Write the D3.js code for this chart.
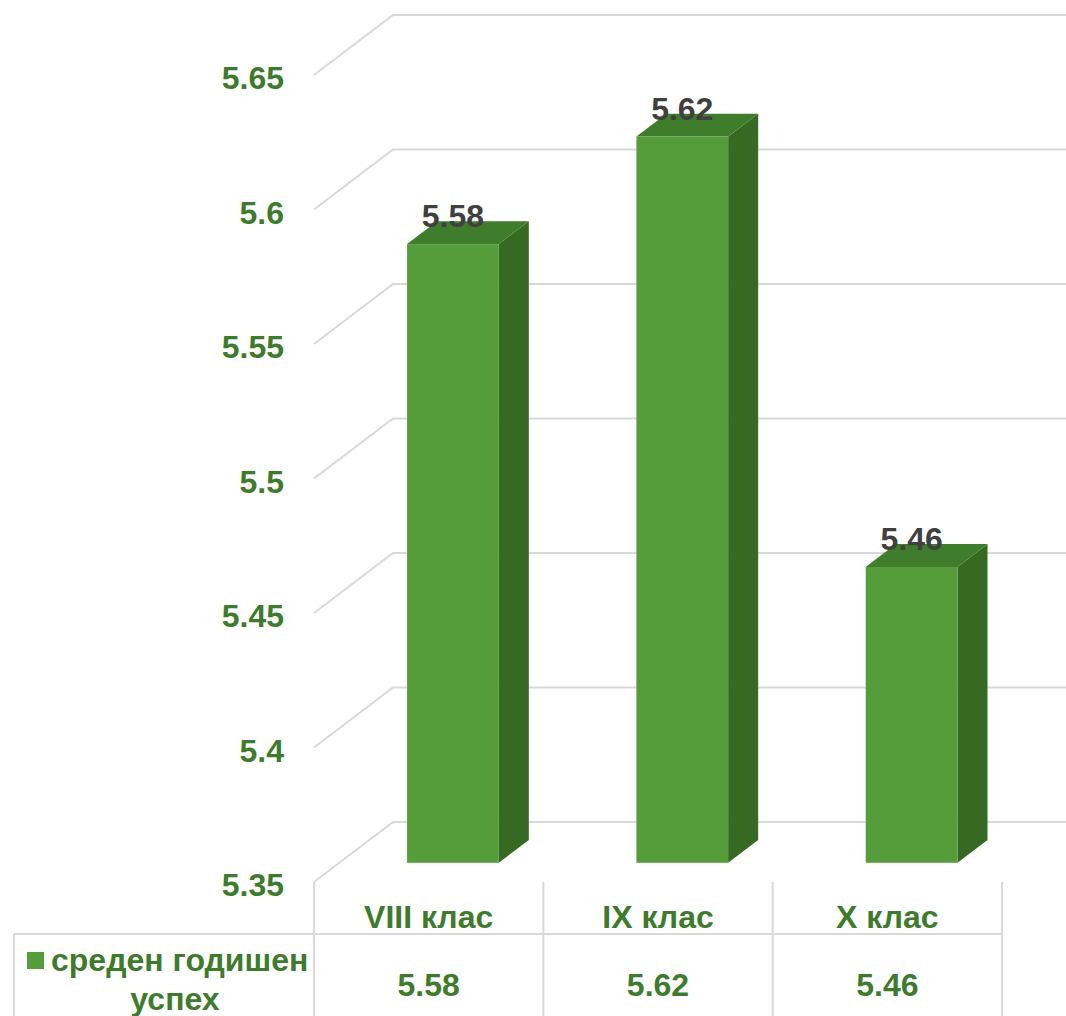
<!DOCTYPE html>
<html>
<head>
<meta charset="UTF-8">
<title>Среден годишен успех</title>
<script src="https://d3js.org/d3.v7.min.js"></script>
<style>
  body { margin: 0; background: #fff; }
  text { font-family: "Liberation Sans", Arial, sans-serif; font-weight: bold; }
</style>
</head>
<body>
<div id="chart"></div>
<script>
// data
var categories = ["VIII клас", "IX клас", "X клас"];
var values = [5.58, 5.62, 5.46];
var seriesName = ["среден годишен", "успех"];
var yTicks = [5.35, 5.4, 5.45, 5.5, 5.55, 5.6, 5.65];

var W = 1066, H = 1016;
var green = "#3E7B2C";
var depthX = 79, depthY = 60;      // wall depth offset
var barD0 = 0.32, barD1 = 0.70;    // bar depth (0 front, 1 back)

var svg = d3.select("#chart").append("svg")
    .attr("width", W).attr("height", H);

// y scale on the front plane
var y = d3.scaleLinear().domain([5.35, 5.65]).range([882, 75]);
// categories on the front plane
var x = d3.scaleBand().domain(categories).range([314, 1002]);

function px(xx, d) { return xx + d * depthX; }
function py(v, d) { return y(v) - d * depthY; }

// gridlines: diagonal side wall + back wall
var grid = svg.append("g");
yTicks.forEach(function(t) {
    grid.append("path")
        .attr("d", "M" + 314 + "," + y(t) + "L" + px(314, 1) + "," + py(t, 1) + "L" + W + "," + py(t, 1))
        .attr("fill", "none")
        .attr("stroke", "#D9D9D9")
        .attr("stroke-width", 2);
});

// y axis labels
svg.append("g").selectAll("text")
    .data(yTicks).join("text")
    .attr("x", 284)
    .attr("y", function(d) { return y(d) + 3; })
    .attr("text-anchor", "end")
    .attr("dominant-baseline", "central")
    .attr("font-size", 32)
    .attr("fill", green)
    .text(function(d) { return d3.format("")(d); });

// bars
var bw = x.bandwidth() * 0.4;
var bars = svg.append("g").selectAll("g")
    .data(values).join("g");

bars.each(function(v, i) {
    var g = d3.select(this);
    var cx = x(categories[i]) + x.bandwidth() / 2 - 1;
    var x0 = px(cx - bw / 2, barD0), x1 = px(cx + bw / 2, barD0);
    var dx = (barD1 - barD0) * depthX, dy = (barD1 - barD0) * depthY;
    var yt = py(v, barD0), yb = py(5.35, barD0);
    // side
    g.append("path")
        .attr("d", "M" + x1 + "," + yt + "L" + (x1 + dx) + "," + (yt - dy) + "L" + (x1 + dx) + "," + (yb - dy) + "L" + x1 + "," + yb + "Z")
        .attr("fill", "#366A23");
    // top
    g.append("path")
        .attr("d", "M" + x0 + "," + yt + "L" + (x0 + dx) + "," + (yt - dy) + "L" + (x1 + dx) + "," + (yt - dy) + "L" + x1 + "," + yt + "Z")
        .attr("fill", "#3F7C2B");
    // front
    g.append("rect")
        .attr("x", x0).attr("y", yt)
        .attr("width", x1 - x0).attr("height", yb - yt)
        .attr("fill", "#559D3B");
    // value label
    g.append("text")
        .attr("x", (x0 + x1) / 2)
        .attr("y", yt - 17)
        .attr("text-anchor", "middle")
        .attr("font-size", 32)
        .attr("fill", "#404040")
        .text(d3.format(".2f")(v));
});

// data table
var table = svg.append("g").attr("stroke", "#D9D9D9").attr("stroke-width", 2);
table.append("line").attr("x1", 14).attr("x2", 1002).attr("y1", 934).attr("y2", 934);
table.append("line").attr("x1", 14).attr("x2", 14).attr("y1", 934).attr("y2", H);
x.domain().forEach(function(c) {
    table.append("line").attr("x1", x(c)).attr("x2", x(c)).attr("y1", 882).attr("y2", H);
});
table.append("line").attr("x1", 1002).attr("x2", 1002).attr("y1", 882).attr("y2", H);

svg.append("g").selectAll("text")
    .data(categories).join("text")
    .attr("x", function(d) { return x(d) + x.bandwidth() / 2; })
    .attr("y", 928)
    .attr("text-anchor", "middle")
    .attr("font-size", 32)
    .attr("fill", green)
    .text(function(d) { return d; });

svg.append("g").selectAll("text")
    .data(values).join("text")
    .attr("x", function(d, i) { return x(categories[i]) + x.bandwidth() / 2; })
    .attr("y", 996)
    .attr("text-anchor", "middle")
    .attr("font-size", 32)
    .attr("fill", green)
    .text(function(d) { return d3.format(".2f")(d); });

// series legend key + name
svg.append("rect")
    .attr("x", 27).attr("y", 952).attr("width", 17).attr("height", 17)
    .attr("fill", "#559D3B");
svg.append("text")
    .attr("x", 51).attr("y", 971)
    .attr("font-size", 32)
    .attr("fill", green)
    .text(seriesName[0]);
svg.append("text")
    .attr("x", 175).attr("y", 1010)
    .attr("text-anchor", "middle")
    .attr("font-size", 32)
    .attr("fill", green)
    .text(seriesName[1]);
</script>
</body>
</html>
